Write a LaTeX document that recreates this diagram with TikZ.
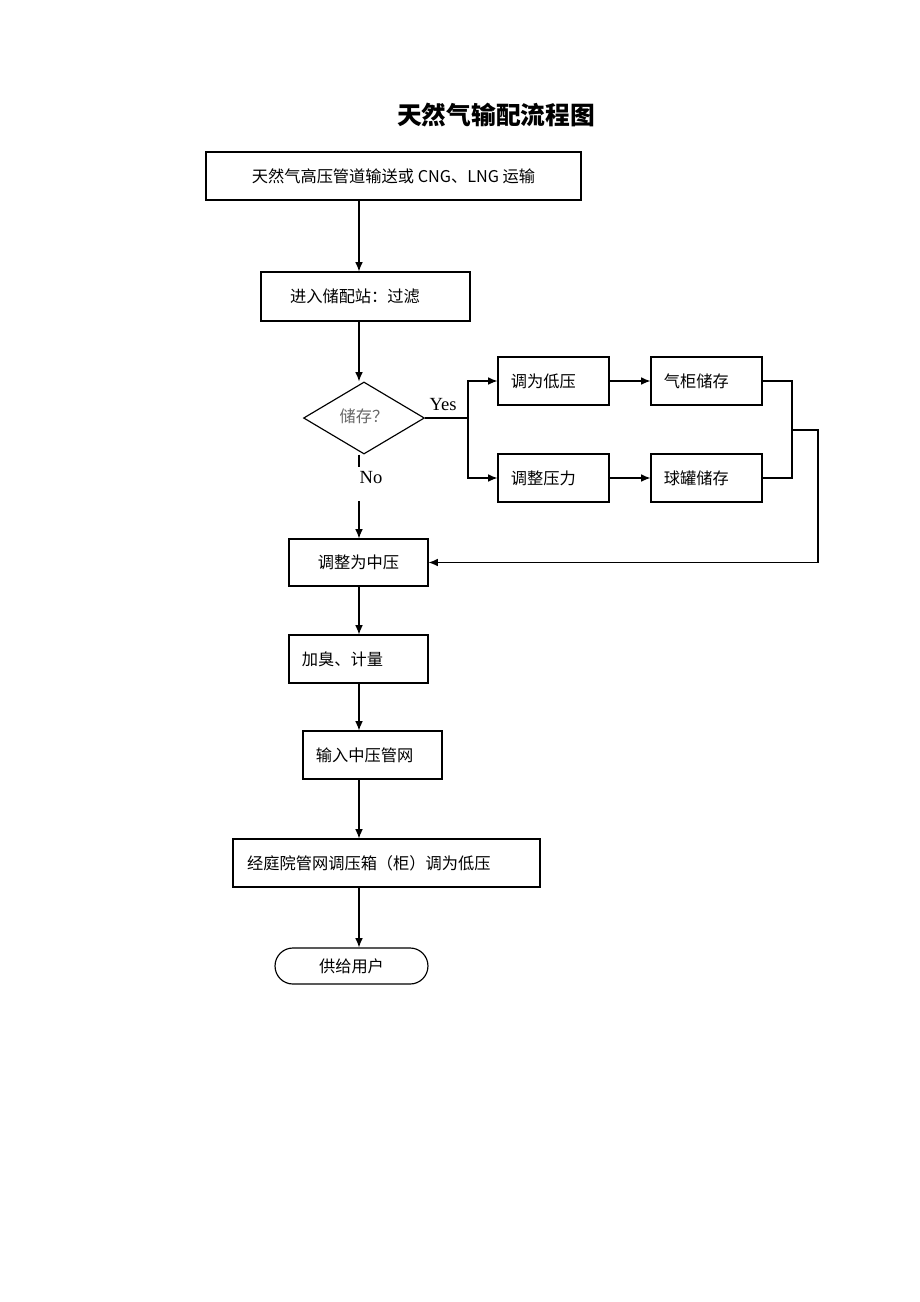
\documentclass[tikz,border=0pt]{standalone}
\usepackage{fontspec}
\setmainfont{Noto Sans CJK SC}
\newfontfamily\latinserif{Liberation Serif}
\usetikzlibrary{shapes.geometric,arrows.meta}

\begin{document}
\begin{tikzpicture}[x=0.6467pt, y=-0.6467pt, line width=0.75pt,
		font=\fontsize{10.5}{12}\selectfont,
		stepbox/.style={draw, rectangle, minimum height=31pt, inner ysep=0pt},
		sidebox/.style={stepbox, text width=55pt, inner xsep=8.4pt, align=left},
		flow/.style={-{Latex[length=6pt,width=5pt]}}]
	\useasboundingbox (0,0) rectangle (920,1302);

	\node[font=\fontsize{16}{19}\selectfont\bfseries] (title) at (496,115) {天然气输配流程图};

	% colonna principale
	\node[stepbox, minimum width=242.5pt] (src) at (393.5,176) {天然气高压管道输送或 CNG、LNG 运输};
	\node[stepbox, text width=97.6pt, inner xsep=18.8pt, align=left, minimum height=31.7pt] (stn) at (365.5,296.5) {进入储配站：过滤};
	\node[diamond, draw, minimum width=78.2pt, minimum height=46.6pt, inner sep=0pt, text=black!60] (dec) at (364,418) {\raisebox{2.5pt}{储存？}};
	\node[stepbox, minimum width=89.9pt, minimum height=30.4pt] (mid) at (358.5,562.5) {调整为中压};
	\node[stepbox, text width=73.1pt, inner xsep=8.4pt, align=left] (odor) at (358.5,659) {加臭、计量};
	\node[stepbox, text width=73.1pt, inner xsep=8.4pt, align=left] (net) at (372.5,755) {输入中压管网};
	\node[stepbox, text width=180.3pt, inner xsep=9.1pt, align=left] (yard) at (386.5,863) {经庭院管网调压箱（柜）调为低压};
	\node[draw, rounded corners=11.6pt, minimum width=98.9pt, minimum height=23.3pt, inner sep=0pt] (user) at (351.5,966) {供给用户};

	% ramo di destra
	\node[sidebox] (low) at (553.5,381) {调为低压};
	\node[sidebox] (gas) at (706.5,381) {气柜储存};
	\node[sidebox] (adj) at (553.5,478) {调整压力};
	\node[sidebox] (ball) at (706.5,478) {球罐储存};

	\node[font=\latinserif\fontsize{12}{14}\selectfont] (yes) at (443,405) {Yes};
	\node[font=\latinserif\fontsize{12}{14}\selectfont] (no) at (371,478) {No};

	\coordinate (ax) at (359,0);
	\coordinate (split) at (468,418);
	\coordinate (mrg) at (792,430);
	\coordinate (rt) at (818,430);
	\coordinate (ntop) at (359,467);
	\coordinate (nbot) at (359,501);

	\draw[flow] (src.south -| ax) -- (stn.north -| ax);
	\draw[flow] (stn.south -| ax) -- (dec.north -| ax);
	\draw (dec.east) -- (split); % si
	\draw[flow] (split) |- (low.west);
	\draw[flow] (split) |- (adj.west);
	\draw[flow] (low) -- (gas);
	\draw[flow] (adj) -- (ball);
	\draw (gas.east) -| (mrg);
	\draw (ball.east) -| (mrg);
	\draw[flow] (mrg) -- (rt) |- (mid.east);
	\draw (dec.south -| ax) -- (ntop); % no
	\draw[flow] (nbot) -- (mid.north -| ax);
	\draw[flow] (mid.south -| ax) -- (odor.north -| ax);
	\draw[flow] (odor.south -| ax) -- (net.north -| ax);
	\draw[flow] (net.south -| ax) -- (yard.north -| ax);
	\draw[flow] (yard.south -| ax) -- (user.north -| ax);
\end{tikzpicture}
\end{document}
